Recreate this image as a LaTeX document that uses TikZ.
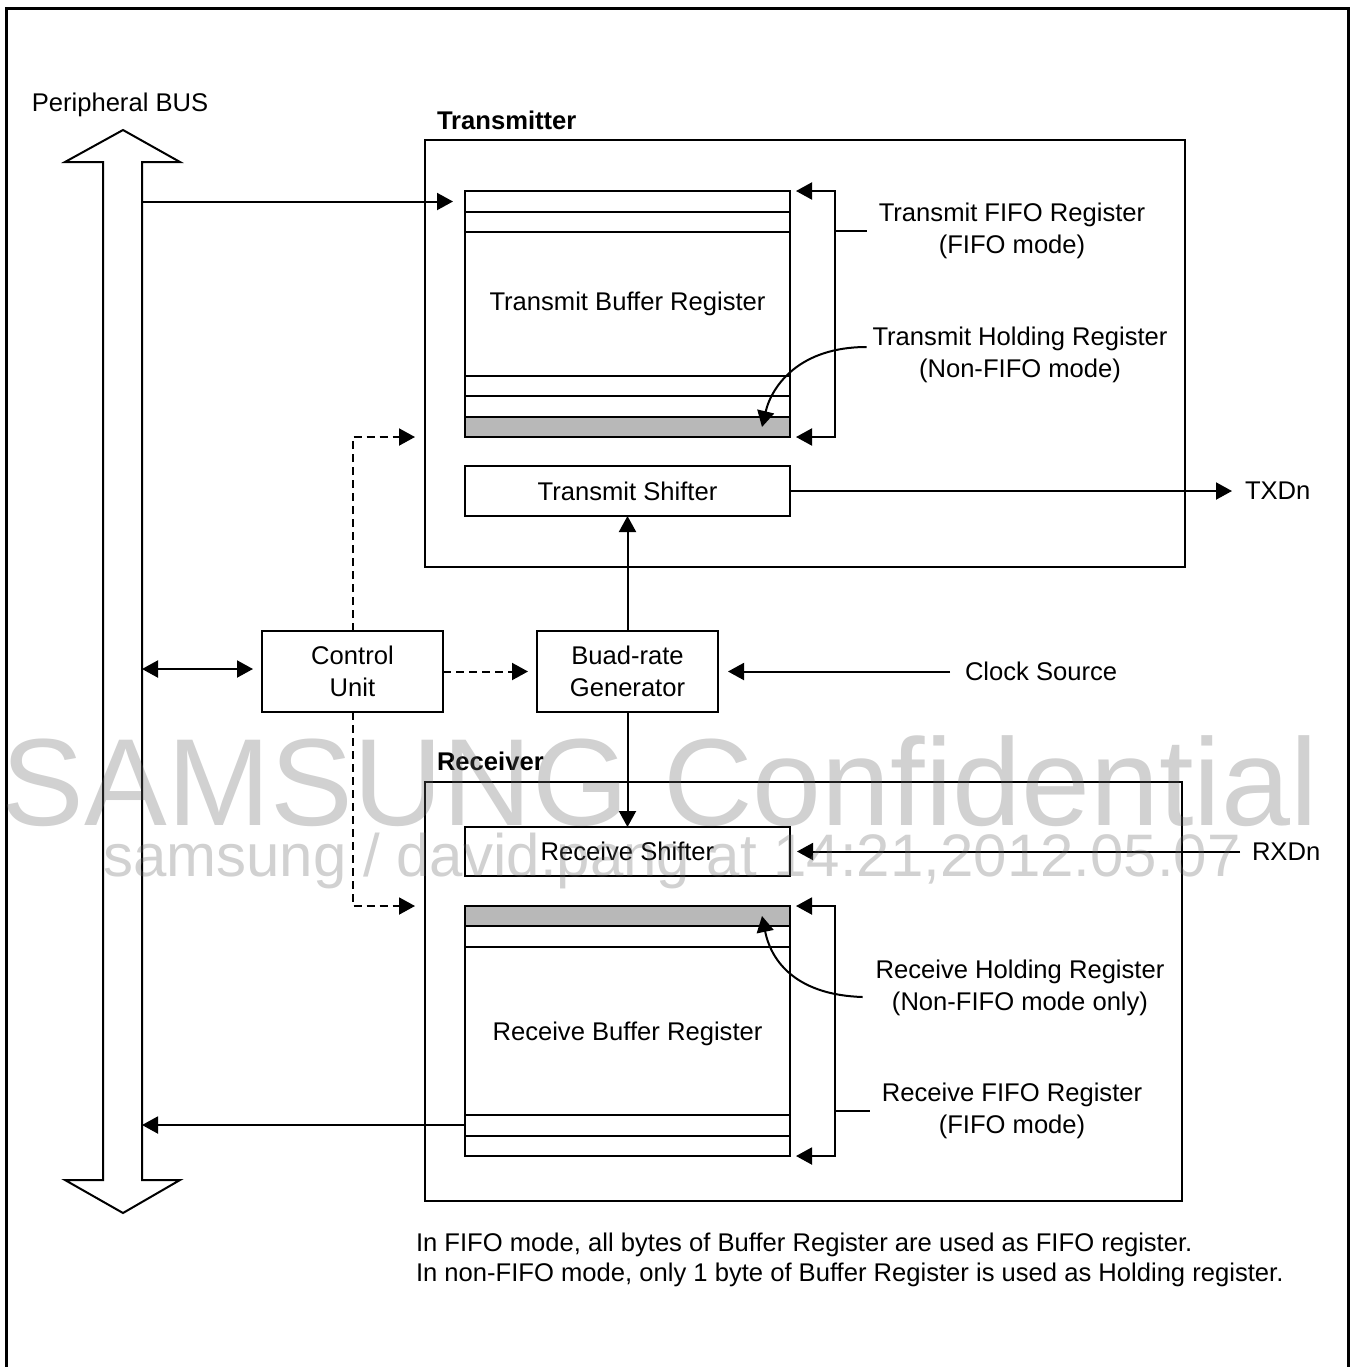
\documentclass[tikz,border=0pt]{standalone}
\usepackage{fontspec}
\setmainfont{Liberation Sans}
\usetikzlibrary{positioning, arrows.meta, calc}

\begin{document}
\begin{tikzpicture}[
    x=0.5pt, y=-0.5pt,
    font=\fontsize{12.8pt}{16pt}\selectfont,
    node distance=14.5pt and 47pt,
    outer sep=0pt,
    >={Triangle[length=8pt,width=8.5pt]},
    line width=1pt,
    block/.style={
        rectangle, draw=black, line width=1pt,
        minimum width=90.5pt, minimum height=40.5pt,
        align=center, inner sep=0pt
    },
    reg/.style={
        rectangle, draw=black, line width=1pt,
        minimum width=162.5pt, align=center, inner sep=0pt
    },
    holdrow/.style={
        rectangle, draw=black, line width=1pt, fill=black!28,
        minimum width=162.5pt, minimum height=10pt, inner sep=0pt
    },
    unitframe/.style={rectangle, draw=black, line width=1pt, inner sep=0pt},
    blocktitle/.style={font=\fontsize{12.8pt}{16pt}\selectfont\bfseries, inner sep=0pt},
    sidenote/.style={align=center, inner sep=0pt},
    ctl/.style={->, dash pattern=on 4pt off 2.5pt},
    wmark/.style={text=black!60, opacity=0.3, inner sep=0pt},
]
\useasboundingbox (0,0) rectangle (1355,1367);

% ---------- Page frame ----------
\draw[line width=1.5pt] (6,1375) -- (6,8) -- (1348,8) -- (1348,1375);

% ---------- Peripheral bus ----------
\draw (103,1180) -- (103,162) -- (65,162) -- (123,130) -- (180,162) -- (142,162)
      -- (142,1180) -- (180,1180) -- (123,1213) -- (65,1180) -- cycle;
\node (buslbl) at (120,105) {Peripheral BUS};
\coordinate (busTx) at (142,201.5);
\coordinate (busCtl) at (142,669);
\coordinate (busRx) at (142,1125);

% ---------- Transmitter ----------
\node[unitframe, minimum width=380pt, minimum height=213.5pt] (tx) at (805,353.5) {};
\node[blocktitle, anchor=base west] (txtitle) at ([xshift=6pt,yshift=5.5pt]tx.north west) {Transmitter};

\node[reg, minimum height=123pt] (tbuf) at (627.5,314) {};
\node (tbuftext) at ([yshift=5pt]tbuf.center) {Transmit Buffer Register};
\foreach \y in {212,232,376,396}
    \draw (tbuf.west |- 0,\y) -- (tbuf.east |- 0,\y);
\node[holdrow, anchor=south] (thr) at (tbuf.south) {};

\node[reg, minimum height=25pt, below=of tbuf] (tshift) {Transmit Shifter};

\node[sidenote] (tfifo) at (1012,231) {Transmit FIFO Register\\(FIFO mode)};
\node[sidenote] (thold) at (1020,355) {Transmit Holding Register\\(Non-FIFO mode)};
\node[sidenote, anchor=west] (txd) at (1245,491) {TXDn};

% ---------- Control / baud rate ----------
\node[block] (ctrl) at (352.5,671.5) {Control\\Unit};
\node[block, right=of ctrl] (baud) {Buad-rate\\Generator};
\node[sidenote, anchor=west] (clk) at (965,671) {Clock Source};

% ---------- Receiver ----------
\node[unitframe, minimum width=378.5pt, minimum height=209.5pt] (rx) at (803.5,991) {};
\node[blocktitle, anchor=base west] (rxtitle) at ([xshift=6pt,yshift=5.5pt]rx.north west) {Receiver};

\node[reg, minimum height=24.5pt] (rshift) at (627.5,851.5) {Receive Shifter};
\node[reg, minimum height=125pt, below=15pt of rshift] (rbuf) {};
\node (rbuftext) at ([yshift=-1.5pt]rbuf.center) {Receive Buffer Register};
\foreach \y in {947,1115,1136}
    \draw (rbuf.west |- 0,\y) -- (rbuf.east |- 0,\y);
\node[holdrow, anchor=north] (rhr) at (rbuf.north) {};

\node[sidenote] (rhold) at (1020,988) {Receive Holding Register\\(Non-FIFO mode only)};
\node[sidenote] (rfifo) at (1012,1111) {Receive FIFO Register\\(FIFO mode)};
\node[sidenote, anchor=west] (rxd) at (1252,852) {RXDn};

% ---------- Note ----------
\node[anchor=base west, align=left, inner sep=0pt, font=\fontsize{12.8pt}{15pt}\selectfont] (foot) at (416,1281)
    {In FIFO mode, all bytes of Buffer Register are used as FIFO register.\\
     In non-FIFO mode, only 1 byte of Buffer Register is used as Holding register.};

% ---------- Arrows ----------
\draw[->, shorten >=6pt] (busTx) -- (busTx -| tbuf.west);
\draw[<->] ([xshift=3pt]tbuf.north east) -- ++(39,0) |- ([xshift=3pt]tbuf.south east);
\draw ([xshift=22.5pt]tbuf.east |- tfifo) -- ([xshift=-6pt]tfifo.west);
\draw[->] ([xshift=-3pt,yshift=4pt]thold.west) .. controls (800,347) and (772,385) .. ([xshift=-14pt]thr.east);
\draw[->, shorten >=6.5pt] (tshift.east) -- (tshift.east -| txd.west);

\draw[<->, shorten >=4.5pt] (busCtl) -- (busCtl -| ctrl.west);
\draw[ctl, shorten >=4.5pt] (ctrl.east) -- (baud.west);
\draw[ctl, shorten >=5pt] (ctrl.north) |- (tx.west |- thr.south);
\draw[ctl, shorten >=5pt] (ctrl.south) |- (rx.west |- rhr.north);
\draw[->, shorten <=7.5pt, shorten >=5pt] (baud.east -| clk.west) -- (baud.east);
\draw[->] (baud.north) -- (baud.north |- tshift.south);
\draw[->] (baud.south) -- (baud.south |- rshift.north);

\draw[->, shorten <=6pt, shorten >=3.5pt] (rshift.east -| rxd.west) -- (rshift.east);
\draw[<->] ([xshift=3pt]rbuf.north east) -- ++(39,0) |- ([xshift=3pt]rbuf.south east);
\draw ([xshift=22.5pt]rbuf.east |- rfifo) -- ([xshift=-6pt]rfifo.west);
\draw[->] ([xshift=-6.5pt,yshift=-4.5pt]rhold.west) .. controls (800,995) and (772,965) .. ([xshift=-14pt]rhr.east);
\draw[->] (busRx -| rbuf.west) -- (busRx);

% ---------- Watermark ----------
\node[wmark, font=\fontsize{62pt}{62pt}\selectfont, anchor=base] (wm1) at (660,825) {SAMSUNG Confidential};
\node[wmark, font=\fontsize{30pt}{30pt}\selectfont, anchor=base] (wm2) at (672,876) {samsung / david.pang at 14:21,2012.05.07};

\end{tikzpicture}
\end{document}
